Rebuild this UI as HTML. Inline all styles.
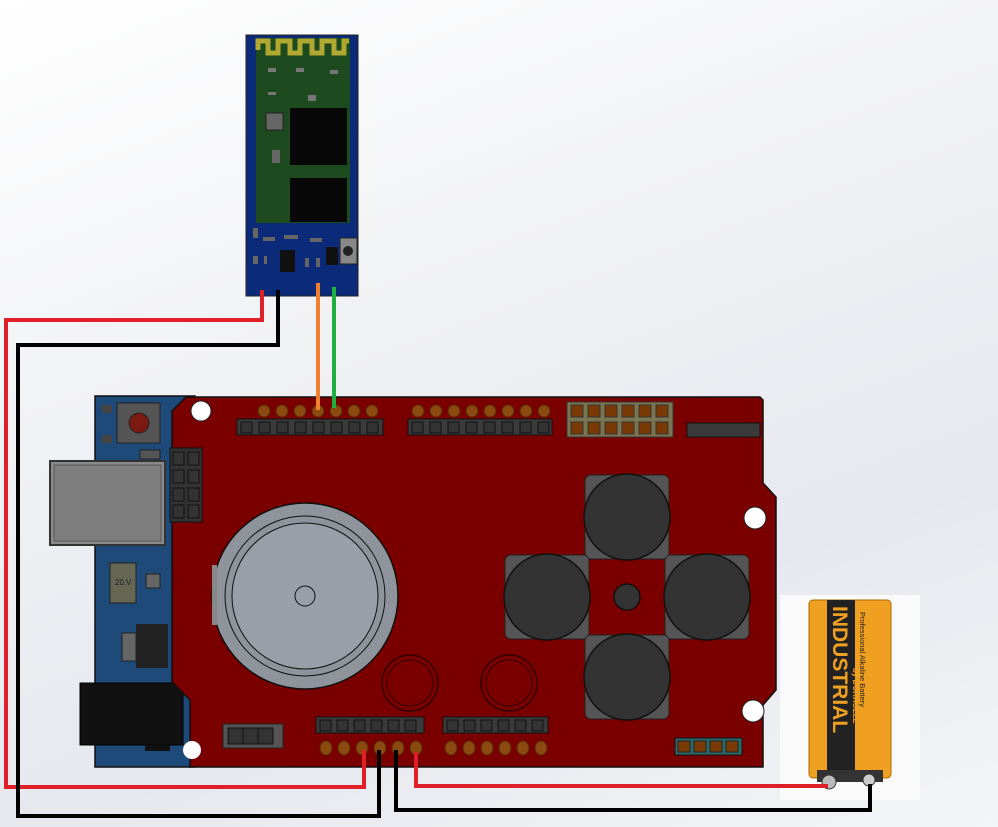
<!DOCTYPE html>
<html><head><meta charset="utf-8"><style>
html,body{margin:0;padding:0;}
body{width:998px;height:827px;overflow:hidden;background:linear-gradient(160deg,#ffffff 0%,#f0f1f4 40%,#e6e8ee 70%,#f4f5f7 100%);}
svg{display:block}
</style></head><body>
<svg width="998" height="827" viewBox="0 0 998 827" xmlns="http://www.w3.org/2000/svg">
<!-- Arduino blue base -->
<rect x="95" y="396" width="100" height="371" fill="#1e4a7a" stroke="#111" stroke-width="1.5"/>
<!-- reset button -->
<rect x="117" y="403" width="43" height="40" fill="#555" stroke="#222"/>
<circle cx="139" cy="423" r="10" fill="#7a1a12" stroke="#222"/>
<rect x="102" y="405" width="10" height="8" fill="#444"/><rect x="102" y="435" width="10" height="8" fill="#444"/>
<rect x="140" y="450" width="20" height="9" fill="#555" stroke="#222"/>
<!-- USB -->
<rect x="50" y="461" width="115" height="84" fill="#8a8a8a" stroke="#333" stroke-width="2"/>
<rect x="54" y="465" width="107" height="76" fill="#7e7e7e" stroke="#555"/>
<!-- small parts -->
<rect x="110" y="563" width="26" height="40" fill="#665" stroke="#222"/>
<text x="115" y="585" font-family="Liberation Sans, sans-serif" font-size="8" fill="#222">20.V</text>
<rect x="146" y="574" width="14" height="14" fill="#666" stroke="#222"/>
<rect x="136" y="624" width="32" height="44" fill="#222"/>
<rect x="122" y="633" width="14" height="28" fill="#666" stroke="#222"/>
<!-- power jack -->
<rect x="80" y="683" width="103" height="62" fill="#111" stroke="#000"/>
<rect x="145" y="745" width="25" height="6" fill="#111"/>
<!-- Red shield -->
<polygon points="186,397 760,397 763,400 763,483 776,497 776,690 763,705 763,767 190,767 190,700 172,682 172,411" fill="#7a0000" stroke="#111" stroke-width="1.5"/>
<!-- 2x4 ICSP left -->
<rect x="170" y="448" width="32" height="74" fill="#333" stroke="#111"/>
<g fill="#333" stroke="#111"><rect x="173" y="452" width="11" height="13"/><rect x="188" y="452" width="11" height="13"/><rect x="173" y="470" width="11" height="13"/><rect x="188" y="470" width="11" height="13"/><rect x="173" y="488" width="11" height="13"/><rect x="188" y="488" width="11" height="13"/><rect x="173" y="505" width="11" height="13"/><rect x="188" y="505" width="11" height="13"/></g>
<!-- holes -->
<circle cx="201" cy="411" r="10" fill="#fff" stroke="#222"/>
<circle cx="755" cy="518" r="11" fill="#fff" stroke="#222"/>
<circle cx="753" cy="711" r="11" fill="#fff" stroke="#222"/>
<circle cx="192" cy="750" r="9" fill="#fff"/>
<!-- top headers -->
<g fill="#8a4a10" stroke="#5a2a00">
<circle cx="264" cy="411" r="6"/><circle cx="282" cy="411" r="6"/><circle cx="300" cy="411" r="6"/><circle cx="318" cy="411" r="6"/><circle cx="336" cy="411" r="6"/><circle cx="354" cy="411" r="6"/><circle cx="372" cy="411" r="6"/>
<circle cx="418" cy="411" r="6"/><circle cx="436" cy="411" r="6"/><circle cx="454" cy="411" r="6"/><circle cx="472" cy="411" r="6"/><circle cx="490" cy="411" r="6"/><circle cx="508" cy="411" r="6"/><circle cx="526" cy="411" r="6"/><circle cx="544" cy="411" r="6"/>
</g>
<rect x="237" y="419" width="146" height="16" fill="#3a3a3a" stroke="#111"/>
<rect x="408" y="419" width="144" height="16" fill="#3a3a3a" stroke="#111"/>
<g fill="#333" stroke="#111">
<rect x="241" y="422" width="11" height="11"/><rect x="259" y="422" width="11" height="11"/><rect x="277" y="422" width="11" height="11"/><rect x="295" y="422" width="11" height="11"/><rect x="313" y="422" width="11" height="11"/><rect x="331" y="422" width="11" height="11"/><rect x="349" y="422" width="11" height="11"/><rect x="367" y="422" width="11" height="11"/>
<rect x="412" y="422" width="11" height="11"/><rect x="430" y="422" width="11" height="11"/><rect x="448" y="422" width="11" height="11"/><rect x="466" y="422" width="11" height="11"/><rect x="484" y="422" width="11" height="11"/><rect x="502" y="422" width="11" height="11"/><rect x="520" y="422" width="11" height="11"/><rect x="538" y="422" width="11" height="11"/>
</g>
<rect x="567" y="402" width="106" height="35" fill="#7a7550" stroke="#333"/>
<g fill="#7a3a05" stroke="#333">
<rect x="571" y="405" width="12" height="12"/><rect x="588" y="405" width="12" height="12"/><rect x="605" y="405" width="12" height="12"/><rect x="622" y="405" width="12" height="12"/><rect x="639" y="405" width="12" height="12"/><rect x="656" y="405" width="12" height="12"/>
<rect x="571" y="422" width="12" height="12"/><rect x="588" y="422" width="12" height="12"/><rect x="605" y="422" width="12" height="12"/><rect x="622" y="422" width="12" height="12"/><rect x="639" y="422" width="12" height="12"/><rect x="656" y="422" width="12" height="12"/>
</g>
<rect x="687" y="423" width="73" height="14" fill="#3a3a3a" stroke="#111"/>
<!-- speaker -->
<circle cx="305" cy="596" r="93" fill="#8f939c" stroke="#111" stroke-width="1.5"/>
<circle cx="305" cy="596" r="80" fill="none" stroke="#111"/>
<circle cx="305" cy="596" r="73" fill="#9a9ea8" stroke="#111"/>
<circle cx="305" cy="596" r="10" fill="none" stroke="#111"/>
<rect x="212" y="565" width="5" height="60" fill="#888"/>
<!-- rings -->
<circle cx="410" cy="683" r="28" fill="none" stroke="#300" stroke-width="1.5"/><circle cx="410" cy="683" r="23" fill="none" stroke="#300"/>
<circle cx="509" cy="683" r="28" fill="none" stroke="#300" stroke-width="1.5"/><circle cx="509" cy="683" r="23" fill="none" stroke="#300"/>
<!-- buttons -->
<g fill="#555" stroke="#222">
<rect x="585" y="475" width="84" height="84" rx="6"/>
<rect x="505" y="555" width="84" height="84" rx="6"/>
<rect x="665" y="555" width="84" height="84" rx="6"/>
<rect x="585" y="635" width="84" height="84" rx="6"/>
</g>
<g fill="#333" stroke="#111" stroke-width="1.5">
<circle cx="627" cy="517" r="43"/><circle cx="547" cy="597" r="43"/><circle cx="707" cy="597" r="43"/><circle cx="627" cy="677" r="43"/>
<circle cx="627" cy="597" r="13"/>
</g>
<!-- bottom headers -->
<rect x="316" y="717" width="108" height="16" fill="#3a3a3a" stroke="#111"/>
<rect x="443" y="717" width="105" height="16" fill="#3a3a3a" stroke="#111"/>
<g fill="#333" stroke="#111">
<rect x="320" y="720" width="11" height="11"/><rect x="337" y="720" width="11" height="11"/><rect x="354" y="720" width="11" height="11"/><rect x="371" y="720" width="11" height="11"/><rect x="388" y="720" width="11" height="11"/><rect x="405" y="720" width="11" height="11"/>
<rect x="447" y="720" width="11" height="11"/><rect x="464" y="720" width="11" height="11"/><rect x="481" y="720" width="11" height="11"/><rect x="498" y="720" width="11" height="11"/><rect x="515" y="720" width="11" height="11"/><rect x="532" y="720" width="11" height="11"/>
</g>
<g fill="#8a4a10" stroke="#5a2a00">
<ellipse cx="326" cy="748" rx="6" ry="7"/><ellipse cx="344" cy="748" rx="6" ry="7"/><ellipse cx="362" cy="748" rx="6" ry="7"/><ellipse cx="380" cy="748" rx="6" ry="7"/><ellipse cx="398" cy="748" rx="6" ry="7"/><ellipse cx="416" cy="748" rx="6" ry="7"/>
<ellipse cx="451" cy="748" rx="6" ry="7"/><ellipse cx="469" cy="748" rx="6" ry="7"/><ellipse cx="487" cy="748" rx="6" ry="7"/><ellipse cx="505" cy="748" rx="6" ry="7"/><ellipse cx="523" cy="748" rx="6" ry="7"/><ellipse cx="541" cy="748" rx="6" ry="7"/>
</g>
<rect x="223" y="724" width="60" height="24" fill="#555" stroke="#222"/>
<g fill="#333" stroke="#111"><rect x="228" y="728" width="15" height="16"/><rect x="243" y="728" width="15" height="16"/><rect x="258" y="728" width="15" height="16"/></g>
<rect x="675" y="738" width="67" height="17" fill="#2a6a6a" stroke="#111"/>
<g fill="#7a3a05" stroke="#222"><rect x="678" y="741" width="12" height="11"/><rect x="694" y="741" width="12" height="11"/><rect x="710" y="741" width="12" height="11"/><rect x="726" y="741" width="12" height="11"/></g>
<!-- battery -->
<rect x="780" y="595" width="140" height="205" fill="#fafafa"/>
<rect x="809" y="600" width="82" height="178" rx="4" fill="#f0a020" stroke="#b06a00"/>
<rect x="827" y="600" width="28" height="178" fill="#222"/>
<text transform="translate(833,606) rotate(90)" font-family="Liberation Sans, sans-serif" font-weight="bold" font-size="21" fill="#f0a020">INDUSTRIAL</text>
<text transform="translate(853,668) rotate(90)" font-family="Liberation Sans, sans-serif" font-weight="bold" font-size="8" fill="#f0a020">by DURACELL</text>
<text transform="translate(860,612) rotate(90)" font-family="Liberation Sans, sans-serif" font-size="7.5" fill="#222">Professional Alkaline Battery</text>
<rect x="817" y="770" width="66" height="12" fill="#333"/>
<circle cx="829" cy="782" r="7" fill="#bbb" stroke="#333"/>
<circle cx="869" cy="780" r="6" fill="#ccc" stroke="#333"/>
<!-- Bluetooth module -->
<rect x="246" y="35" width="112" height="261" fill="#0c2a7a" stroke="#222"/>
<rect x="256" y="38" width="94" height="185" fill="#1d4a1e"/>
<path d="M258 50 V41 H268 V53 H278 V41 H290 V53 H300 V41 H312 V53 H322 V41 H334 V53 H344 V41 H349" fill="none" stroke="#b0a830" stroke-width="5"/>
<rect x="290" y="108" width="57" height="57" fill="#080808"/>
<rect x="290" y="178" width="57" height="44" fill="#080808"/>
<rect x="266" y="113" width="17" height="17" fill="#666" stroke="#222"/>
<rect x="272" y="150" width="8" height="13" fill="#666"/>
<g fill="#777"><rect x="268" y="68" width="8" height="4"/><rect x="296" y="68" width="8" height="4"/><rect x="330" y="70" width="8" height="4"/><rect x="308" y="95" width="8" height="6"/><rect x="268" y="92" width="8" height="3"/></g>
<rect x="340" y="238" width="17" height="26" fill="#888" stroke="#222"/><circle cx="348" cy="251" r="5" fill="#222"/>
<rect x="280" y="250" width="15" height="22" fill="#111"/>
<rect x="326" y="247" width="12" height="18" fill="#111"/>
<g fill="#666"><rect x="253" y="228" width="5" height="10"/><rect x="263" y="237" width="12" height="4"/><rect x="284" y="235" width="14" height="4"/><rect x="310" y="238" width="12" height="4"/><rect x="253" y="256" width="5" height="8"/><rect x="264" y="256" width="3" height="8"/><rect x="305" y="258" width="4" height="9"/><rect x="316" y="258" width="4" height="9"/></g>
<!-- wires -->
<g fill="none" stroke-width="4" stroke-linejoin="miter">
<polyline points="318,283 318,410" stroke="#f08030"/>
<polyline points="334,287 334,408" stroke="#20b040"/>
<polyline points="262,290 262,320 6,320 6,787 364,787 364,750" stroke="#e02028"/>
<polyline points="278,290 278,345 18,345 18,816 379,816 379,750" stroke="#000"/>
<polyline points="416,752 416,786 828,786" stroke="#e02028"/>
<polyline points="396,750 396,810 870,810 870,784" stroke="#000"/>
</g>
</svg>
</body></html>
